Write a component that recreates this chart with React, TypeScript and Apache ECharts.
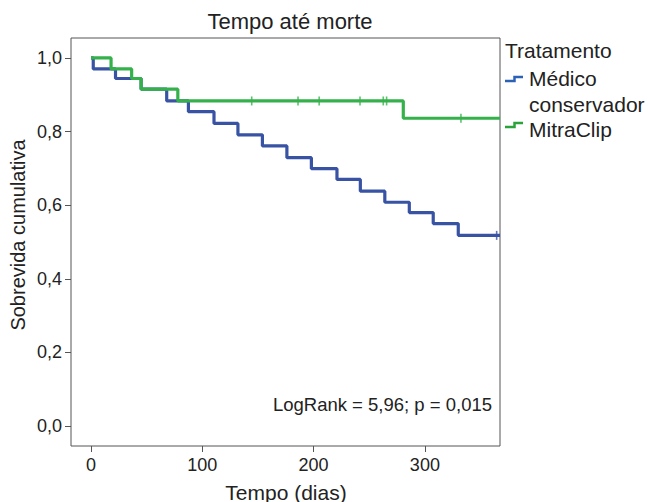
import React, { useEffect, useRef } from "react";
import * as echarts from "echarts";

// Kaplan-Meier step data (time in days, cumulative survival)
const medicoTimes = [0, 2, 22, 45, 68, 87.5, 110.5, 132, 154, 176, 198, 221, 242, 264, 286, 307.5, 330, 367.5];
const medicoSurv = [1.0, 0.97, 0.944, 0.915, 0.883, 0.854, 0.822, 0.791, 0.761, 0.729, 0.699, 0.67, 0.638, 0.608, 0.58, 0.55, 0.518, 0.518];
const medicoCensorTimes = [364.5];
const medicoCensorSurv = [0.518];

const mitraTimes = [0, 18, 36.5, 45, 78, 280.6, 367.5];
const mitraSurv = [1.0, 0.97, 0.944, 0.915, 0.883, 0.836, 0.836];
const mitraCensorTimes = [144.4, 186, 205, 241.7, 262.6, 265.6, 332.4];
const mitraCensorSurv = [0.883, 0.883, 0.883, 0.883, 0.883, 0.883, 0.836];

const xTicks = [0, 100, 200, 300];
const yTicks = [0, 0.2, 0.4, 0.6, 0.8, 1.0];

const seriesNames = ["Médico conservador", "MitraClip"];
const legendLabels = [["Médico", "conservador"], ["MitraClip"]];

const BLUE = "#3953a4";
const GREEN = "#35b14b";
const FONT = "'Liberation Sans', Arial, Helvetica, sans-serif";
const TEXT = "#222";

export default function App() {
  const ref = useRef<HTMLDivElement>(null);
  useEffect(() => {
    document.body.style.margin = "0";
    if (!ref.current) return;
    const chart = echarts.init(ref.current, null, { renderer: "svg" });
    const zip = (a: number[], b: number[]) => a.map((v, i) => [v, b[i]]);
    const censorSymbol = "rect";
    chart.setOption({
      animation: false,
      textStyle: { fontFamily: FONT },
      grid: {
        left: 71,
        top: 38,
        width: 429,
        height: 408,
        show: true,
        borderColor: "#555",
        borderWidth: 1,
        backgroundColor: "transparent",
        containLabel: false,
      },
      xAxis: {
        type: "value",
        min: -18,
        max: 367.5,
        axisLine: { show: false, onZero: false },
        splitLine: { show: false },
        axisTick: { show: true, length: 6, customValues: xTicks, lineStyle: { color: "#555" } },
        axisLabel: {
          customValues: xTicks,
          margin: 10,
          fontSize: 18,
          color: TEXT,
          fontFamily: FONT,
        },
      },
      yAxis: {
        type: "value",
        min: -0.054,
        max: 1.054,
        axisLine: { show: false, onZero: false },
        splitLine: { show: false },
        axisTick: { show: true, length: 6, customValues: yTicks, lineStyle: { color: "#555" } },
        axisLabel: {
          customValues: yTicks,
          margin: 9,
          fontSize: 18,
          color: TEXT,
          fontFamily: FONT,
          formatter: (v: number) => v.toFixed(1).replace(".", ","),
        },
      },
      series: [
        {
          name: seriesNames[0],
          type: "line",
          step: "end",
          showSymbol: false,
          symbol: "none",
          data: zip(medicoTimes, medicoSurv),
          lineStyle: { color: BLUE, width: 3.2 },
          z: 2,
        },
        {
          name: seriesNames[0] + " censor",
          type: "scatter",
          symbol: censorSymbol,
          symbolSize: [1.6, 9],
          data: zip(medicoCensorTimes, medicoCensorSurv),
          itemStyle: { color: BLUE },
          z: 2,
        },
        {
          name: seriesNames[1],
          type: "line",
          step: "end",
          showSymbol: false,
          symbol: "none",
          data: zip(mitraTimes, mitraSurv),
          lineStyle: { color: GREEN, width: 3.2 },
          z: 3,
        },
        {
          name: seriesNames[1] + " censor",
          type: "scatter",
          symbol: censorSymbol,
          symbolSize: [1.6, 9],
          data: zip(mitraCensorTimes, mitraCensorSurv),
          itemStyle: { color: GREEN },
          z: 3,
        },
      ],
      graphic: [
        {
          type: "text",
          x: 290,
          y: 21,
          style: { text: "Tempo até morte", fontSize: 22, fill: TEXT, fontFamily: FONT, align: "center", verticalAlign: "middle" },
        },
        {
          type: "text",
          x: 286,
          y: 492,
          style: { text: "Tempo (dias)", fontSize: 21, fill: TEXT, fontFamily: FONT, align: "center", verticalAlign: "middle" },
        },
        {
          type: "text",
          x: 18,
          y: 235,
          rotation: Math.PI / 2,
          style: { text: "Sobrevida cumulativa", fontSize: 20, fill: TEXT, fontFamily: FONT, align: "center", verticalAlign: "middle" },
        },
        {
          type: "text",
          x: 492,
          y: 404,
          style: { text: "LogRank = 5,96; p = 0,015", fontSize: 18.5, fill: TEXT, fontFamily: FONT, align: "right", verticalAlign: "middle" },
        },
        {
          type: "text",
          x: 505,
          y: 50,
          style: { text: "Tratamento", fontSize: 21, fill: TEXT, fontFamily: FONT, align: "left", verticalAlign: "middle" },
        },
        {
          type: "text",
          x: 529,
          y: 78,
          style: { text: legendLabels[0][0], fontSize: 21, fill: TEXT, fontFamily: FONT, align: "left", verticalAlign: "middle" },
        },
        {
          type: "text",
          x: 529,
          y: 104,
          style: { text: legendLabels[0][1], fontSize: 21, fill: TEXT, fontFamily: FONT, align: "left", verticalAlign: "middle" },
        },
        {
          type: "text",
          x: 529,
          y: 129,
          style: { text: legendLabels[1][0], fontSize: 21, fill: TEXT, fontFamily: FONT, align: "left", verticalAlign: "middle" },
        },
        {
          type: "polyline",
          shape: { points: [[505, 81], [514.5, 81], [514.5, 77], [523, 77]] },
          style: { stroke: "#2c62b5", lineWidth: 2.5, fill: "none" },
        },
        {
          type: "polyline",
          shape: { points: [[505, 127], [514.5, 127], [514.5, 123], [523, 123]] },
          style: { stroke: "#2aa33a", lineWidth: 2.5, fill: "none" },
        },
      ],
    });
    return () => chart.dispose();
  }, []);
  return <div ref={ref} style={{ width: 648, height: 502 }} />;
}
